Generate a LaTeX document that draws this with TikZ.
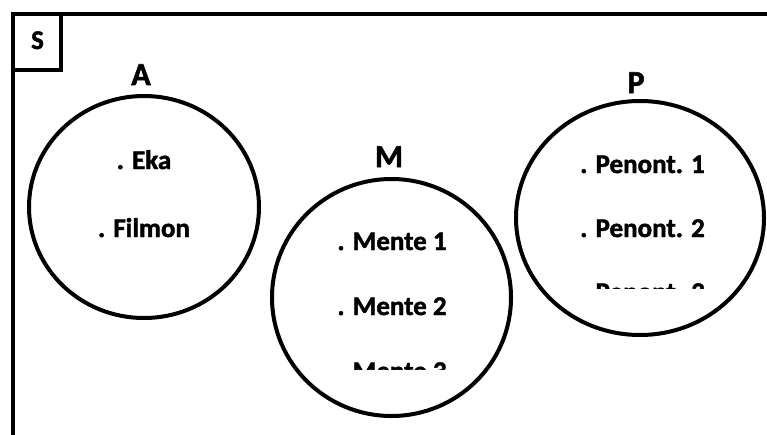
\documentclass[tikz,border=0pt]{standalone}
\usepackage{fontspec}
\setmainfont{Carlito}[BoldFeatures={FakeBold=1.6}]
\usetikzlibrary{shapes.geometric}
\tikzset{
  setline/.style={line width=4pt, line cap=butt, line join=miter},
  setring/.style={ellipse, draw, line width=4pt, inner sep=0pt},
  member/.style={anchor=base, inner sep=0pt, font=\fontsize{27}{27}\selectfont\bfseries},
  setname/.style={anchor=base, inner sep=0pt, font=\fontsize{32}{32}\selectfont\bfseries},
  univname/.style={anchor=base, inner sep=0pt, font=\fontsize{27}{27}\selectfont\bfseries},
}
\begin{document}
\begin{tikzpicture}[x=1pt, y=-1pt]
\useasboundingbox (0,0) rectangle (767,434);
% universe frame and its corner tag
\draw[setline] (770,13.5) -- (12.5,13.5) -- (12.5,440);
\draw[setline] (12.5,13.5) rectangle (60.5,70);
\node[univname] (S) at (37.5,49) {S};

% set A
\node[setring, minimum width=230pt, minimum height=222pt] (setA) at (144,207) {};
\node[setname] (labA) at (141,85) {A};
\node[member] (a1) at (144,169) {. Eka};
\node[member] (a2) at (144,237) {. Filmon};

% set M
\node[setring, minimum width=239pt, minimum height=237pt] (setM) at (391.5,297.5) {};
\node[setname] (labM) at (389,167) {M};
\begin{scope}
  \clip (260,180) rectangle (520,369);
  \node[member] (m1) at (392,250) {. Mente 1};
  \node[member] (m2) at (392,315) {. Mente 2};
  \node[member] (m3) at (392,380) {. Mente 3};
\end{scope}

% set P
\node[setring, minimum width=248pt, minimum height=234pt] (setP) at (640,218) {};
\node[setname] (labP) at (636,93) {P};
\begin{scope}
  \clip (520,100) rectangle (767,288);
  \node[member] (p1) at (642.5,173) {. Penont. 1};
  \node[member] (p2) at (642.5,237) {. Penont. 2};
  \node[member] (p3) at (642.5,301) {. Penont. 3};
\end{scope}
\end{tikzpicture}
\end{document}
